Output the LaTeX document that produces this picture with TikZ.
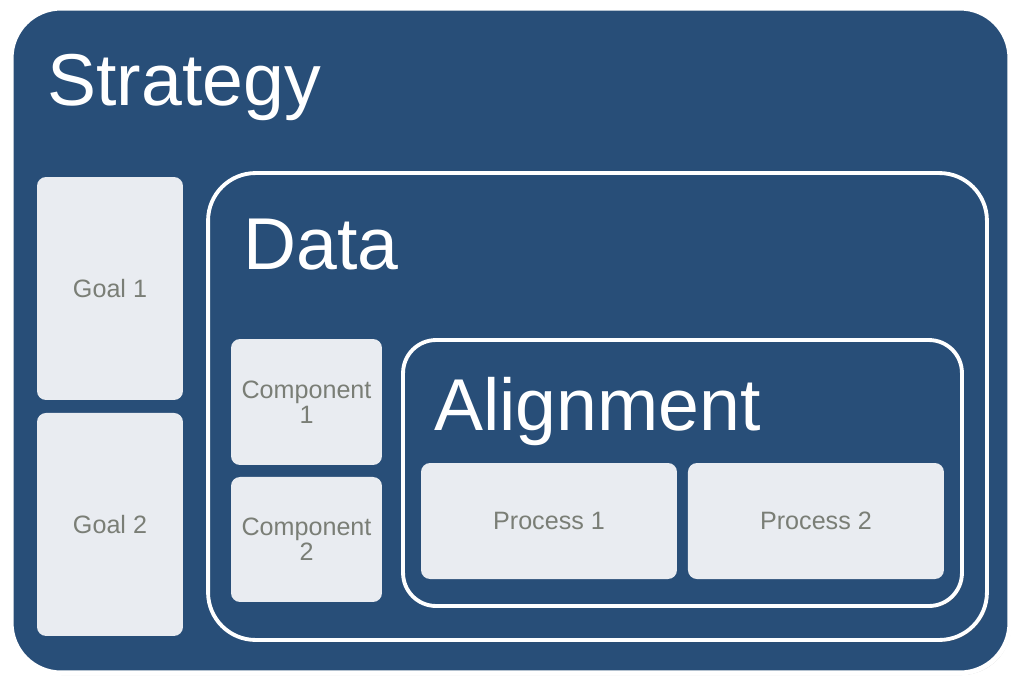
\documentclass[tikz,border=0pt]{standalone}
\usepackage{fontspec}
\setmainfont{Liberation Sans}
\usetikzlibrary{positioning, shadows}
\usepackage{xcolor}
\definecolor{stratblue}{HTML}{284E78}
\definecolor{itemfill}{HTML}{E9ECF1}
\definecolor{itemtext}{HTML}{7A7E76}

\begin{document}
\begin{tikzpicture}[
        x=0.02cm, y=-0.02cm,
        % Box styles
        outerbox/.style={rectangle, draw=white, line width=2.8pt, fill=stratblue, rounded corners=1cm, inner sep=0pt, outer sep=0pt,
            drop shadow={shadow xshift=0.8pt, shadow yshift=-1.2pt, opacity=0.3, fill=black!60}},
        framebox/.style={rectangle, draw=white, line width=2.2pt, fill=stratblue, inner sep=0pt, outer sep=0pt,
            drop shadow={shadow xshift=0.8pt, shadow yshift=-1.2pt, opacity=0.45, fill=black!70}},
        itembox/.style={rectangle, fill=itemfill, rounded corners=0.18cm, inner sep=0pt, outer sep=0pt, text=itemtext, align=center,
            font=\fontsize{14.3}{14.4}\selectfont},
        titletext/.style={anchor=base west, inner sep=0pt, text=white, font=\fontsize{41.8}{44}\selectfont}
    ]
    \useasboundingbox (0,0) rectangle (1020,687);

    % --- STRATEGY (outer frame) ---
    \node (strategy) [outerbox, minimum width=19.98cm, minimum height=13.3cm] at (510.5,340.5) {};
    \node (strattitle) [titletext] at (47,105) {Strategy};

    % --- GOALS (left column) ---
    \node (goal1) [itembox, minimum width=2.92cm, minimum height=4.46cm] at (110,288.5) {Goal 1};
    \node (goal2) [itembox, minimum width=2.92cm, minimum height=4.46cm, below=0.26cm of goal1] {Goal 2};

    % --- DATA (middle frame) ---
    \node (data) [framebox, rounded corners=0.95cm, minimum width=15.58cm, minimum height=9.34cm] at (597.5,406.5) {};
    \node (datatitle) [titletext] at (243,269) {Data};

    \node (comp1) [itembox, minimum width=3.02cm, minimum height=2.52cm] at (306.5,402) {Component\\1};
    \node (comp2) [itembox, minimum width=3.02cm, minimum height=2.5cm, below=0.24cm of comp1] {Component\\2};

    % --- ALIGNMENT (inner frame) ---
    \node (align) [framebox, rounded corners=0.66cm, minimum width=11.18cm, minimum height=5.32cm] at (682.5,473) {};
    \node (aligntitle) [titletext] at (434,430) {Alignment};

    \node (proc1) [itembox, minimum width=5.12cm, minimum height=2.32cm] at (549,521) {Process 1};
    \node (proc2) [itembox, minimum width=5.12cm, minimum height=2.32cm, right=0.22cm of proc1] {Process 2};

\end{tikzpicture}
\end{document}
